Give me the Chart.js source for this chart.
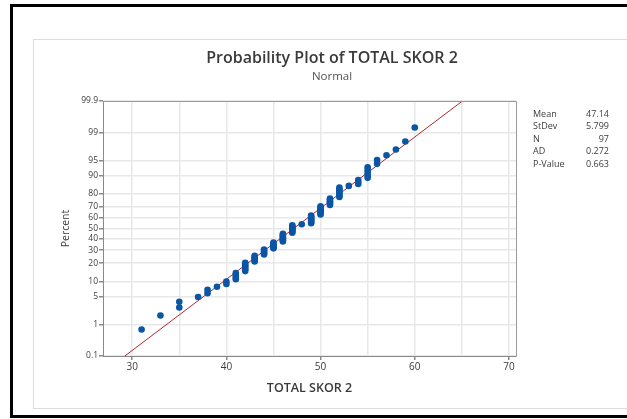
<!DOCTYPE html>
<html>
<head>
<meta charset="utf-8">
<script src="https://cdn.jsdelivr.net/npm/chart.js@4.4.1/dist/chart.umd.min.js"></script>
<style>
  html, body { margin: 0; padding: 0; background: #fff; }
  #wrap { position: relative; width: 627px; height: 419px; }
</style>
</head>
<body>
<div id="wrap"><canvas id="c" width="627" height="419"></canvas></div>
<script>
/* global Chart */
(function () {
  "use strict";

  // observed scores and how many students got each one (N = 97)
  const scores = [31, 33, 35, 37, 38, 39, 40, 41, 42, 43, 44, 45, 46, 47,
                  48, 49, 50, 51, 52, 53, 54, 55, 56, 57, 58, 59, 60];
  const counts = [1, 1, 2, 1, 2, 1, 2, 4, 6, 5, 5, 6, 8, 8,
                  1, 8, 8, 6, 7, 1, 3, 5, 2, 1, 1, 1, 1];

  const percentTicks = [0.1, 1, 5, 10, 20, 30, 40, 50, 60, 70, 80, 90, 95, 99, 99.9];
  const xTicks = [30, 35, 40, 45, 50, 55, 60, 65, 70];

  // fitted normal line (mean 47.14, sd 5.799) at 0.1% and 99.9%
  const fitX = [29.22, 65.06];
  const fitP = [0.1, 99.9];

  const statLabels = ["Mean", "StDev", "N", "AD", "P-Value"];
  const statValues = ["47.14", "5.799", "97", "0.272", "0.663"];

  const titleText = "Probability Plot of TOTAL SKOR 2";
  const subtitleText = "Normal";

  const FONT = "'Segoe UI', 'Open Sans', sans-serif";
  const TEXT = "#3c3c3c";

  // inverse standard normal CDF (Acklam)
  function probit(p) {
    const a = [-39.69683028665376, 220.9460984245205, -275.9285104469687,
               138.3577518672690, -30.66479806614716, 2.506628277459239];
    const b = [-54.47609879822406, 161.5858368580409, -155.6989798598866,
               66.80131188771972, -13.28068155288572];
    const c = [-0.007784894002430293, -0.3223964580411365, -2.400758277161838,
               -2.549732539343734, 4.374664141464968, 2.938163982698783];
    const d = [0.007784695709041462, 0.3224671290700398, 2.445134137142996,
               3.754408661907416];
    const lo = 0.02425, hi = 1 - lo;
    let q, r;
    if (p < lo) {
      q = Math.sqrt(-2 * Math.log(p));
      return (((((c[0] * q + c[1]) * q + c[2]) * q + c[3]) * q + c[4]) * q + c[5]) /
             ((((d[0] * q + d[1]) * q + d[2]) * q + d[3]) * q + 1);
    }
    if (p > hi) {
      q = Math.sqrt(-2 * Math.log(1 - p));
      return -(((((c[0] * q + c[1]) * q + c[2]) * q + c[3]) * q + c[4]) * q + c[5]) /
              ((((d[0] * q + d[1]) * q + d[2]) * q + d[3]) * q + 1);
    }
    q = p - 0.5;
    r = q * q;
    return (((((a[0] * r + a[1]) * r + a[2]) * r + a[3]) * r + a[4]) * r + a[5]) * q /
           (((((b[0] * r + b[1]) * r + b[2]) * r + b[3]) * r + b[4]) * r + 1);
  }

  // plotting positions: median ranks (i - 0.3) / (n + 0.4)
  const n = counts.reduce(function (s, v) { return s + v; }, 0);
  const points = [];
  let rank = 0;
  scores.forEach(function (s, k) {
    for (let j = 0; j < counts[k]; j++) {
      rank++;
      points.push({ x: s, y: probit((rank - 0.3) / (n + 0.4)) });
    }
  });

  const fitLine = fitX.map(function (x, i) {
    return { x: x, y: probit(fitP[i] / 100) };
  });

  const zMax = probit(0.999);

  const framePlugin = {
    id: "frame",
    beforeDraw: function (chart) {
      const ctx = chart.ctx;
      ctx.save();
      ctx.fillStyle = "#fff";
      ctx.fillRect(0, 0, chart.width, chart.height);
      ctx.strokeStyle = "#000";
      ctx.lineWidth = 3;
      ctx.strokeRect(11.5, 5.5, 700, 411);
      ctx.strokeStyle = "#dcdcdc";
      ctx.lineWidth = 1;
      ctx.strokeRect(33.5, 39.5, 700, 369);

      // title block is centred on the inner panel, not on the plot
      ctx.textAlign = "center";
      ctx.textBaseline = "middle";
      ctx.fillStyle = "#3a3a3a";
      ctx.font = "600 16px " + FONT;
      ctx.fillText(titleText, 332, 58);
      ctx.fillStyle = "#555";
      ctx.font = "11.5px " + FONT;
      ctx.fillText(subtitleText, 332, 77);
      ctx.restore();
    },
    afterDraw: function (chart) {
      const ctx = chart.ctx;
      const a = chart.chartArea;
      ctx.save();
      ctx.strokeStyle = "#9a9a9a";
      ctx.lineWidth = 1;
      ctx.beginPath();
      ctx.moveTo(Math.round(a.left) + 0.5, Math.round(a.top) + 0.5);
      ctx.lineTo(Math.round(a.right) + 0.5, Math.round(a.top) + 0.5);
      ctx.lineTo(Math.round(a.right) + 0.5, Math.round(a.bottom) + 0.5);
      ctx.stroke();

      ctx.font = "9px " + FONT;
      ctx.fillStyle = TEXT;
      ctx.textBaseline = "middle";
      statLabels.forEach(function (lab, i) {
        const y = 114 + i * 12.6;
        ctx.textAlign = "left";
        ctx.fillText(lab, 533, y);
        ctx.textAlign = "right";
        ctx.fillText(statValues[i], 609, y);
      });
      ctx.restore();
    },
  };

  new Chart(document.getElementById("c").getContext("2d"), {
    type: "scatter",
    data: {
      datasets: [
        {
          type: "line",
          data: fitLine,
          borderColor: "#b5272d",
          borderWidth: 1,
          pointRadius: 0,
          fill: false,
          order: 2,
        },
        {
          data: points,
          backgroundColor: "#0a55a5",
          borderColor: "#0a55a5",
          borderWidth: 0,
          pointRadius: 3.3,
          order: 1,
        },
      ],
    },
    options: {
      responsive: false,
      animation: false,
      devicePixelRatio: 1,
      layout: { padding: { left: 33, top: 101, right: 111, bottom: 19 } },
      plugins: {
        legend: { display: false },
        tooltip: { enabled: false },
        title: { display: false },
      },
      scales: {
        x: {
          type: "linear",
          min: 26.9,
          max: 70.75,
          afterBuildTicks: function (scale) {
            scale.ticks = xTicks.map(function (v) { return { value: v }; });
          },
          afterFit: function (scale) { scale.height = 44; },
          ticks: {
            autoSkip: false,
            maxRotation: 0,
            padding: 1,
            color: TEXT,
            font: { family: FONT, size: 10 },
            callback: function (v) { return v % 10 === 0 ? String(v) : ""; },
          },
          grid: {
            color: "#e8e8e8",
            lineWidth: 1.5,
            tickLength: 4,
            tickColor: function (ctx) {
              return ctx.tick && ctx.tick.value % 10 === 0 ? "#8a8a8a" : "rgba(0,0,0,0)";
            },
          },
          border: { color: "#8a8a8a", width: 1 },
          title: {
            display: true,
            text: "TOTAL SKOR 2",
            color: "#3a3a3a",
            font: { family: FONT, size: 12.5, weight: "600" },
            padding: { top: 4, bottom: 4 },
          },
        },
        y: {
          type: "linear",
          min: -zMax,
          max: zMax,
          afterBuildTicks: function (scale) {
            scale.ticks = percentTicks.map(function (p) {
              return { value: probit(p / 100) };
            });
          },
          afterFit: function (scale) { scale.width = 70; },
          ticks: {
            autoSkip: false,
            padding: 1,
            color: TEXT,
            font: { family: FONT, size: 8.5 },
            callback: function (v, i) { return String(percentTicks[i]); },
          },
          grid: {
            color: "#e8e8e8",
            lineWidth: 1.5,
            tickLength: 4,
            tickColor: "#8a8a8a",
          },
          border: { color: "#8a8a8a", width: 1 },
          title: {
            display: true,
            text: "Percent",
            color: TEXT,
            font: { family: FONT, size: 10.5 },
            padding: { top: 27, bottom: 0 },
          },
        },
      },
    },
    plugins: [framePlugin],
  });
})();
</script>
</body>
</html>
